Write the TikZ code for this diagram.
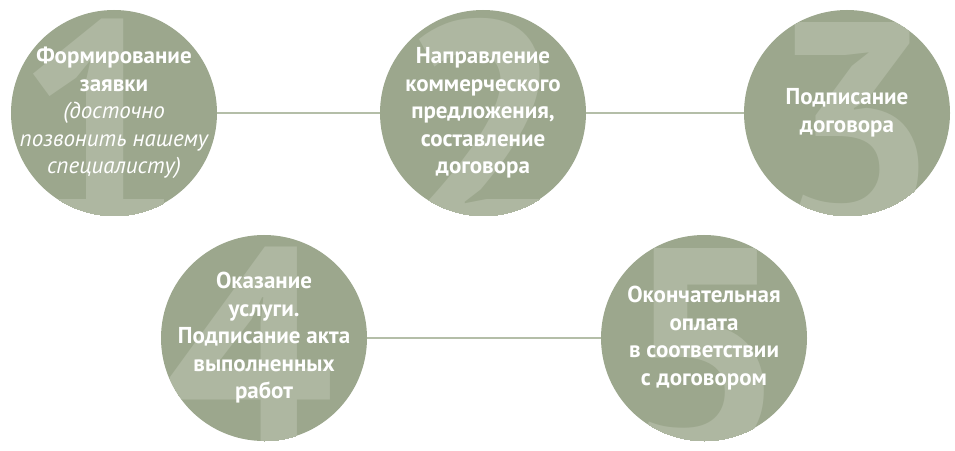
\documentclass[tikz,border=0pt]{standalone}
\usepackage{fontspec}
\setmainfont{PT Sans}
\usetikzlibrary{positioning}
\definecolor{sage}{HTML}{9CA78D}
\definecolor{sagelight}{HTML}{AEB7A1}
\definecolor{sageline}{HTML}{B4BEA8}

\begin{document}
\begin{tikzpicture}[x=1pt, y=1pt,
    stage/.style={
    circle,
    fill=sage,
    draw=none,
    inner sep=0pt,
    minimum size=206pt},
    bignum/.style={
    anchor=base,
    text=sagelight,
    inner sep=0pt,
    font=\fontsize{300}{300}\selectfont\bfseries},
    caption/.style={
    text=white,
    align=center,
    inner sep=0pt,
    font=\fontsize{23}{27.5}\selectfont\bfseries},
    link/.style={draw=sageline, line width=1.2pt}]

    \useasboundingbox (0,0) rectangle (955,450);

    \node[stage] (c1) at (114,337) {};
    \node[stage] (c2) at (483,337) {};
    \node[stage] (c3) at (847,337) {};

    \node[stage] (c4) at (264,112) {};
    \node[stage] (c5) at (704,112) {};

    % big digits behind the captions
    \foreach \n/\dx in {1/-14, 2/0, 3/8, 4/-14, 5/0} {
        \begin{scope}
            \clip (c\n.center) circle[radius=103];
            \node[bignum] at ([shift={(\dx,-120)}]c\n.center) {\n};
        \end{scope}
    }

    \node[caption] at (c1) {Формирование\\заявки\\{\mdseries\itshape (досточно}\\
        {\mdseries\itshape позвонить нашему}\\{\mdseries\itshape специалисту)}};
    \node[caption] at (c2) {Направление\\коммерческого\\предложения,\\составление\\договора};
    \node[caption] at (c3) {Подписание\\договора};
    \node[caption] at (c4) {Оказание\\услуги.\\Подписание акта\\выполненных\\работ};
    \node[caption] at (c5) {Окончательная\\оплата\\в соответствии\\с договором};

    \draw[link] (c1) -- (c2) -- (c3);
    \draw[link] (c4) -- (c5);
\end{tikzpicture}
\end{document}
